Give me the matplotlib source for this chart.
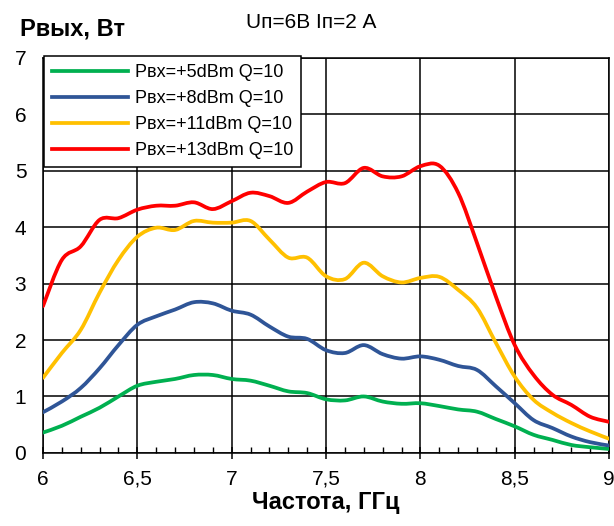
import numpy as np
import matplotlib.pyplot as plt
from matplotlib.ticker import MultipleLocator
from matplotlib.path import Path
from matplotlib.patches import PathPatch
from matplotlib.lines import Line2D

plt.rcParams['font.family'] = ['Liberation Sans Narrow', 'Liberation Sans', 'DejaVu Sans']

freq = np.round(np.arange(6.0, 9.001, 0.1), 2)

p5 = [0.36, 0.48, 0.64, 0.80, 1.00, 1.19, 1.26, 1.31, 1.38, 1.38, 1.31,
      1.28, 1.19, 1.09, 1.06, 0.95, 0.93, 1.00, 0.91, 0.87, 0.88,
      0.83, 0.77, 0.73, 0.60, 0.47, 0.32, 0.23, 0.14, 0.10, 0.07]
p8 = [0.72, 0.91, 1.15, 1.50, 1.91, 2.27, 2.42, 2.54, 2.67, 2.65, 2.52,
      2.45, 2.24, 2.06, 2.02, 1.82, 1.77, 1.91, 1.75, 1.67, 1.71,
      1.65, 1.54, 1.47, 1.18, 0.88, 0.58, 0.44, 0.29, 0.19, 0.13]
p11 = [1.33, 1.77, 2.18, 2.84, 3.42, 3.83, 3.99, 3.95, 4.11, 4.08, 4.08,
       4.11, 3.78, 3.46, 3.46, 3.13, 3.08, 3.37, 3.13, 3.02, 3.10,
       3.12, 2.89, 2.57, 1.95, 1.35, 0.94, 0.71, 0.53, 0.38, 0.25]
p13 = [2.60, 3.42, 3.66, 4.13, 4.16, 4.31, 4.38, 4.38, 4.44, 4.32, 4.46,
       4.61, 4.55, 4.43, 4.63, 4.80, 4.78, 5.05, 4.90, 4.90, 5.08,
       5.09, 4.61, 3.72, 2.77, 1.91, 1.38, 1.03, 0.85, 0.64, 0.55]

labels = ['Pвх=+5dBm Q=10', 'Pвх=+8dBm Q=10', 'Pвх=+11dBm Q=10', 'Pвх=+13dBm Q=10']
colors = ['#00B050', '#2F5597', '#FFC000', '#FF0000']
xticks = [6, 6.5, 7, 7.5, 8, 8.5, 9]
xticklabels = ['6', '6,5', '7', '7,5', '8', '8,5', '9']


# smoothed line like excel: bezier segments through the points
def smooth_path(x, y, t=1/6):
    x = np.asarray(x, float)
    y = np.asarray(y, float)
    n = len(x)
    verts = [(x[0], y[0])]
    codes = [Path.MOVETO]
    for i in range(n - 1):
        i0 = max(i - 1, 0)
        i3 = min(i + 2, n - 1)
        c1 = (x[i] + (x[i + 1] - x[i0]) * t, y[i] + (y[i + 1] - y[i0]) * t)
        c2 = (x[i + 1] - (x[i3] - x[i]) * t, y[i + 1] - (y[i3] - y[i]) * t)
        verts += [c1, c2, (x[i + 1], y[i + 1])]
        codes += [Path.CURVE4] * 3
    return Path(verts, codes)


fig = plt.figure(figsize=(6.14, 5.26), dpi=100)
ax = fig.add_axes([0.070, 0.139, 0.922, 0.751])

handles = []
for y, lab, c in zip([p5, p8, p11, p13], labels, colors):
    ax.add_patch(PathPatch(smooth_path(freq, y), facecolor='none', edgecolor=c,
                           lw=2.7, joinstyle='round', capstyle='round', zorder=3))
    handles.append(Line2D([], [], color=c, lw=2.7, label=lab))

ax.set_xlim(6, 9)
ax.set_ylim(0, 7)
ax.set_xticks(xticks)
ax.set_xticklabels(xticklabels)
ax.xaxis.set_minor_locator(MultipleLocator(0.1))
ax.set_yticks(range(0, 8))
ax.grid(True, which='major', color='black', lw=1.1)
for s in ax.spines.values():
    s.set_color('black')
    s.set_linewidth(1.1)
ax.tick_params(axis='x', which='major', direction='inout', length=8, width=1.1, labelsize=15, pad=8)
ax.tick_params(axis='x', which='minor', direction='in', length=4, width=1)
ax.tick_params(axis='y', length=0, labelsize=15, pad=12)

ax.set_xlabel('Частота, ГГц', fontsize=17, fontweight='bold', labelpad=2)
fig.text(0.033, 0.945, 'Pвых, Вт', fontsize=17, fontweight='bold', ha='left', va='center')
fig.text(0.40, 0.957, 'Uп=6В Iп=2 А', fontsize=15, ha='left', va='center')

leg = ax.legend(handles=handles, loc='upper left', bbox_to_anchor=(0.001, 1.005), fontsize=13,
                frameon=True, fancybox=False, edgecolor='black', framealpha=1,
                handlelength=4.2, handletextpad=0.4, borderpad=0.45, labelspacing=0.5,
                borderaxespad=0)
leg.get_frame().set_linewidth(1.1)
leg.set_zorder(5)

fig.savefig('out.png', dpi=100)
